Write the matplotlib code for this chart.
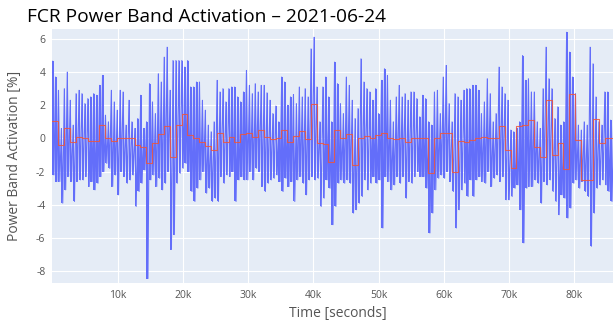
import numpy as np
import matplotlib
matplotlib.use("Agg")
import matplotlib.pyplot as plt
from matplotlib.ticker import FuncFormatter

# 15-minute mean of the FCR activation (%), one value per quarter hour
quarter_mean = [
    1.05, -0.4, 0.6, -0.2, 0.1, 0.05, -0.15, -0.15, 0.8, 0.0,
    -0.15, 0.05, 0.05, 0.05, -0.4, -0.5, -1.5, -0.3, 0.25, 0.75,
    -1.1, 0.8, 1.45, 0.2, 0.0, -0.2, -0.45, -0.7, 0.35, -0.2,
    0.1, -0.2, 0.25, 0.3, 0.1, 0.5, 0.1, -0.05, 0.0, 0.5,
    -0.2, 0.15, 0.45, -0.05, 2.05, -0.3, -0.35, -1.45, 0.5, 0.0,
    0.25, -1.6, 0.05, 0.15, 0.05, 0.2, 0.3, 0.05, -0.05, 0.05,
    -0.2, 0.0, 0.05, 0.0, -2.1, 0.0, 0.3, 0.3, -2.0, -0.15,
    -0.2, -0.1, 0.05, 0.1, 0.05, 0.05, 0.75, -0.7, -1.8, 0.75,
    0.8, 1.1, -0.5, -1.1, 2.3, -1.0, -0.3, -1.85, 2.65, -0.1,
    -2.5, -2.5, 1.15, -0.3, 0.0, 0.0,
]

# per-second activation, kept as the positive / negative peak of each 450 s block
peak_up = [
    4.65, 3.7, 2.9, 0.6, 3.0, 4.0, 2.3, 0.8, 2.7, 2.9,
    2.7, 2.1, 2.4, 2.5, 2.7, 2.6, 3.2, 3.8, 1.4, 1.0,
    2.9, 2.2, 1.7, 2.9, 2.8, 0.8, 2.3, 1.0, 0.6, 1.2,
    2.6, 0.6, 1.0, 3.3, 2.2, 1.5, 3.9, 3.4, 4.9, 5.5,
    2.9, 4.7, 4.7, 4.7, 4.7, 4.3, 4.7, 3.1, 3.1, 3.4,
    3.4, 2.3, 1.7, 0.8, 0.4, 1.0, 3.5, 2.8, 3.0, 2.2,
    3.0, 3.1, 3.1, 2.5, 2.2, 2.8, 4.1, 3.2, 2.7, 3.3,
    2.8, 3.2, 3.2, 2.75, 2.3, 1.5, 1.95, 1.0, 3.7, 3.4,
    2.0, 2.5, 2.65, 2.1, 3.1, 2.5, 3.0, 2.5, 5.4, 6.1,
    3.1, 1.0, 3.1, 3.7, 2.5, 1.0, 4.6, 3.3, 2.1, 1.5,
    3.7, 3.2, 2.3, 1.2, 1.8, 4.8, 3.4, 3.0, 2.8, 2.3,
    3.0, 1.5, 3.5, 4.2, 3.8, 2.3, 1.0, 2.5, 3.2, 2.5,
    2.7, 2.3, 2.8, 2.8, 2.4, 1.3, 2.6, 2.4, 1.0, 0.8,
    2.8, 2.9, 1.5, 3.7, 4.4, 2.1, 1.0, 2.7, 2.5, 2.3,
    2.9, 3.0, 3.0, 3.2, 3.2, 2.9, 1.5, 2.2, 3.6, 2.7,
    1.0, 1.5, 4.3, 3.1, 2.7, 2.3, 0.5, 0.4, 0.6, 1.0,
    5.0, 3.5, 3.6, 2.8, 2.8, 1.0, 0.6, 3.0, 5.5, 3.6,
    3.0, 1.2, 1.9, 0.8, 1.0, 6.4, 5.2, 3.7, 2.7, 0.8,
    0.5, 1.0, 0.8, 5.5, 4.5, 2.5, 1.0, 0.8, 2.8, 2.8,
    1.1, 1.0,
]
peak_down = [
    -2.2, -2.6, -2.6, -3.9, -3.1, -2.3, -2.6, -3.8, -2.6, -2.5,
    -2.5, -2.3, -2.9, -2.6, -3.1, -2.7, -2.3, -2.0, -1.5, -1.8,
    -2.9, -2.2, -3.4, -2.0, -2.3, -2.7, -2.5, -2.2, -4.1, -3.2,
    -2.7, -1.9, -8.45, -2.5, -2.2, -2.9, -2.4, -3.1, -2.7, -2.0,
    -6.7, -5.8, -2.7, -2.1, -1.8, -1.5, -2.0, -3.2, -3.8, -3.0,
    -2.5, -2.0, -3.3, -3.0, -3.8, -3.6, -3.8, -2.3, -2.7, -2.2,
    -2.3, -2.0, -3.8, -2.5, -2.3, -2.5, -2.5, -2.0, -2.5, -1.8,
    -2.0, -2.9, -3.2, -2.7, -2.5, -2.4, -2.2, -2.6, -3.2, -2.4,
    -2.9, -2.6, -3.8, -2.5, -2.3, -2.7, -3.4, -2.5, -2.3, -2.5,
    -2.4, -4.1, -3.6, -2.5, -3.0, -5.2, -4.1, -2.7, -2.5, -2.7,
    -2.5, -2.7, -4.5, -4.3, -3.9, -3.5, -2.5, -3.1, -2.7, -2.3,
    -2.7, -2.5, -5.4, -2.3, -2.6, -3.1, -2.8, -2.3, -2.7, -2.3,
    -3.6, -2.6, -2.7, -2.3, -2.0, -2.3, -2.3, -3.0, -5.7, -4.5,
    -3.1, -2.4, -2.2, -2.4, -2.0, -2.6, -3.2, -5.4, -4.3, -3.1,
    -2.7, -3.5, -2.5, -3.5, -2.5, -2.3, -2.6, -2.7, -2.0, -2.9,
    -2.4, -2.2, -2.6, -2.3, -3.7, -3.7, -3.5, -3.0, -2.8, -4.3,
    -6.3, -3.0, -2.9, -2.9, -2.5, -2.7, -3.9, -2.6, -2.8, -2.5,
    -3.2, -3.8, -4.6, -3.4, -3.6, -4.8, -4.2, -2.7, -2.5, -3.0,
    -2.6, -3.2, -3.5, -6.5, -4.5, -3.0, -2.8, -2.5, -2.8, -3.2,
    -3.8, -3.0,
]

QUARTER = 900
BLOCK = 450

block_t = np.arange(len(peak_up)) * BLOCK
peak_up = np.array(peak_up)
peak_down = np.array(peak_down)

# the 1 s trace swings between the block peaks
trace_t = np.column_stack([block_t + BLOCK * 0.1, block_t + BLOCK * 0.55]).ravel()
trace_v = np.column_stack([peak_up, peak_down]).ravel()

quarter_t = np.arange(len(quarter_mean) + 1) * QUARTER
quarter_v = np.append(quarter_mean, quarter_mean[-1])

plt.rcParams['font.family'] = ['Open Sans', 'DejaVu Sans']

fig = plt.figure(figsize=(6.13, 3.2), dpi=100)
ax = fig.add_axes([52.3 / 613, 37 / 320, 560.7 / 613, 254 / 320])
ax.set_facecolor('#E5ECF6')

# min-to-max range of each block plus the swing between blocks
ax.bar(block_t, peak_up - peak_down, bottom=peak_down, width=BLOCK * 0.45,
       align='edge', color='#636EFA', linewidth=0)
ax.plot(trace_t, trace_v, color='#636EFA', linewidth=0.8)
ax.step(quarter_t, quarter_v, where='post', color='#EF553B', linewidth=0.8, alpha=0.85)

ax.set_xlim(0, 85900)
ax.set_ylim(-8.72, 6.6)
ax.set_xticks(np.arange(10000, 85000, 10000))
ax.set_yticks(np.arange(-8, 7, 2))
ax.xaxis.set_major_formatter(FuncFormatter(lambda v, p: f"{int(v / 1000)}k"))
ax.yaxis.set_major_formatter(FuncFormatter(lambda v, p: f"{int(v)}"))
ax.grid(True, color='white', linewidth=0.8)
ax.set_axisbelow(True)
for s in ax.spines.values():
    s.set_visible(False)
ax.tick_params(length=0, labelsize=7.5, labelcolor='#555555', pad=5)

ax.set_xlabel('Time [seconds]', fontsize=10, color='#555555')
ax.xaxis.set_label_coords((338 - 52.3) / 560.7, -0.09)
ax.set_ylabel('Power Band Activation [%]', fontsize=10, color='#555555')
ax.yaxis.set_label_coords(-(52.3 - 22) / 560.7, 0.5)
fig.text(27 / 613, 1 - 22 / 320, 'FCR Power Band Activation – 2021-06-24',
         fontsize=13.8, color='black', ha='left', va='baseline')

fig.savefig('out.png', dpi=100)
